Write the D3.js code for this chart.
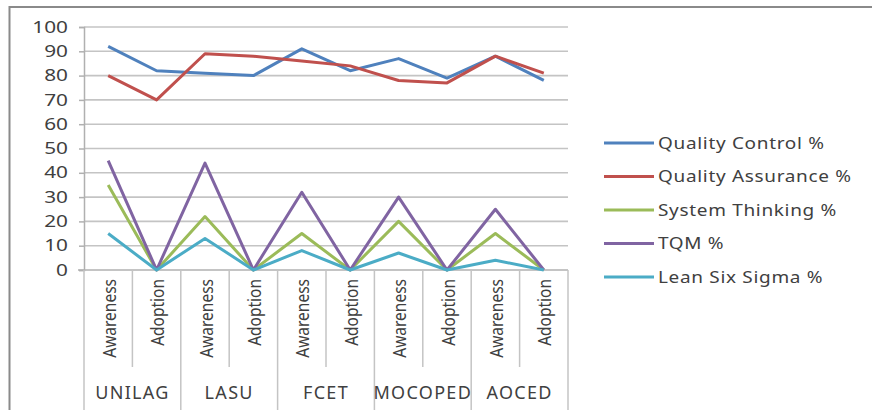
<!DOCTYPE html>
<html>
<head>
  <title>Awareness and Adoption Line Chart</title>
  <script src="https://d3js.org/d3.v7.min.js"></script>
  <style>
    body { margin: 0; background: #fff; }
    text { fill: #404040; font-family: "Noto Sans", "Open Sans", sans-serif; }
  </style>
</head>
<body>
  <div id="chart-container"></div>
  <script>

var groups = ["UNILAG", "LASU", "FCET", "MOCOPED", "AOCED"];
var stages = ["Awareness", "Adoption"];
var yTicks = [0, 10, 20, 30, 40, 50, 60, 70, 80, 90, 100];

var seriesNames = ["Quality Control %", "Quality Assurance %", "System Thinking %", "TQM %", "Lean Six Sigma %"];
var seriesColors = ["#4f81bd", "#c0504d", "#9bbb59", "#8064a2", "#4bacc6"];

// values in order: UNILAG aw, ad, LASU aw, ad, FCET aw, ad, MOCOPED aw, ad, AOCED aw, ad
var qualityControl   = [92, 82, 81, 80, 91, 82, 87, 79, 88, 78];
var qualityAssurance = [80, 70, 89, 88, 86, 84, 78, 77, 88, 81];
var systemThinking   = [35, 0, 22, 0, 15, 0, 20, 0, 15, 0];
var tqm              = [45, 0, 44, 0, 32, 0, 30, 0, 25, 0];
var leanSixSigma     = [15, 0, 13, 0, 8, 0, 7, 0, 4, 0];

var allSeries = [qualityControl, qualityAssurance, systemThinking, tqm, leanSixSigma];

var W = 872, H = 410;
var plotLeft = 84, plotRight = 568, plotTop = 27, plotBottom = 270;

var svg = d3.select("#chart-container")
  .append("svg")
  .attr("width", W)
  .attr("height", H);

svg.append("rect").attr("width", W).attr("height", H).attr("fill", "#fff");

// outer frame (only top and left edges visible in the crop)
svg.append("rect")
  .attr("x", 9.5).attr("y", 7)
  .attr("width", 1000).attr("height", 1000)
  .attr("fill", "none")
  .attr("stroke", "#8a8a8a")
  .attr("stroke-width", 2);

var keys = [];
groups.forEach(g => stages.forEach(s => keys.push(g + "|" + s)));

var x = d3.scaleBand().domain(keys).range([plotLeft, plotRight]).padding(0);
var xg = d3.scaleBand().domain(groups).range([plotLeft, plotRight]).padding(0);
var y = d3.scaleLinear().domain([0, 100]).range([plotBottom, plotTop]);

// gridlines
svg.append("g")
  .selectAll("line")
  .data(yTicks.filter(d => d > 0))
  .enter().append("line")
  .attr("x1", plotLeft).attr("x2", plotRight)
  .attr("y1", d => y(d)).attr("y2", d => y(d))
  .attr("stroke", "#c4c4c4")
  .attr("stroke-width", 1.6);

// y axis
var yAxis = svg.append("g")
  .attr("transform", "translate(" + plotLeft + ",0)")
  .call(d3.axisLeft(y).tickValues(yTicks).tickSize(5).tickPadding(11));
yAxis.select(".domain").attr("stroke", "#b0b0b0").attr("stroke-width", 1.5);
yAxis.selectAll(".tick line").attr("stroke", "#b0b0b0").attr("stroke-width", 1.5);
yAxis.selectAll(".tick text")
  .attr("font-size", 16)
  .attr("font-family", "DejaVu Sans, sans-serif")
  .attr("fill", "#3a3a3a")
  .attr("transform", function() {
    // stretched glyphs as in the picture, anchored at their right edge
    var xx = +d3.select(this).attr("x");
    return "translate(" + xx + ",0) scale(1.3,1) translate(" + (-xx) + ",0)";
  });

// x axis baseline
svg.append("line")
  .attr("x1", plotLeft - 6).attr("x2", plotRight)
  .attr("y1", plotBottom).attr("y2", plotBottom)
  .attr("stroke", "#b0b0b0").attr("stroke-width", 1.5);

// inner separators between Awareness/Adoption
svg.append("g")
  .selectAll("line")
  .data(keys.filter(k => k.endsWith("Adoption")))
  .enter().append("line")
  .attr("x1", k => x(k)).attr("x2", k => x(k))
  .attr("y1", plotBottom).attr("y2", 367)
  .attr("stroke", "#c4c4c4").attr("stroke-width", 1.5);

// group separators
var gBounds = groups.map(g => xg(g)).concat([plotRight]);
svg.append("g")
  .selectAll("line")
  .data(gBounds)
  .enter().append("line")
  .attr("x1", d => d).attr("x2", d => d)
  .attr("y1", plotBottom).attr("y2", H)
  .attr("stroke", "#c4c4c4").attr("stroke-width", 1.5);

// rotated stage labels
svg.append("g")
  .selectAll("text")
  .data(keys)
  .enter().append("text")
  .attr("transform", k => "translate(" + (x(k) + x.bandwidth() / 2 + 1) + "," + (plotBottom + 9) + ") rotate(-90) scale(1,1.2)")
  .attr("text-anchor", "end")
  .attr("dy", "0.35em")
  .attr("font-size", 15.5)
  .text(k => k.split("|")[1]);

// group labels
svg.append("g")
  .selectAll("text")
  .data(groups)
  .enter().append("text")
  .attr("x", g => xg(g) + xg.bandwidth() / 2)
  .attr("y", 399)
  .attr("text-anchor", "middle")
  .attr("font-size", 18)
  .attr("letter-spacing", 1.3)
  .text(g => g);

// lines
var line = d3.line()
  .x((d, i) => x(keys[i]) + x.bandwidth() / 2)
  .y(d => y(d));

svg.append("g")
  .selectAll("path")
  .data(allSeries)
  .enter().append("path")
  .attr("d", d => line(d))
  .attr("fill", "none")
  .attr("stroke", (d, i) => seriesColors[i])
  .attr("stroke-width", 3)
  .attr("stroke-linejoin", "round");

// legend
var ly = d3.scalePoint().domain(seriesNames).range([143, 277]);
var legend = svg.append("g")
  .selectAll("g")
  .data(seriesNames)
  .enter().append("g")
  .attr("transform", d => "translate(604," + ly(d) + ")");

legend.append("line")
  .attr("x1", 0).attr("x2", 50)
  .attr("stroke", (d, i) => seriesColors[i])
  .attr("stroke-width", 3);

legend.append("text")
  .attr("x", 54)
  .attr("dy", "0.35em")
  .attr("font-size", 16.5)
  .attr("letter-spacing", 0.6)
  .attr("transform", "translate(54,0) scale(1.15,1) translate(-54,0)")
  .text(d => d);

</script>
</body>
</html>
